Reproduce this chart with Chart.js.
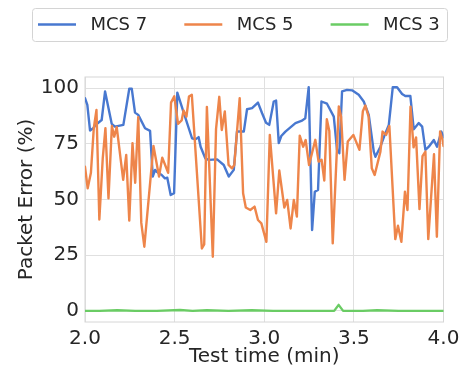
<!DOCTYPE html>
<html>
<head>
<meta charset="utf-8">
<script src="https://cdn.jsdelivr.net/npm/chart.js@4.4.1/dist/chart.umd.min.js"></script>
<style>
  html, body { margin: 0; padding: 0; background: #fff; }
  #wrap { width: 465px; height: 369px; position: relative; }
</style>
</head>
<body>
<div id="wrap"><canvas id="per"></canvas></div>
<script>
var xTicks = [2.0, 2.5, 3.0, 3.5, 4.0]
var yTicks = [0, 25, 50, 75, 100]

// MCS 7
var mcs7Time = [2.000,2.013,2.028,2.046,2.060,2.093,2.112,2.149,2.167,2.214,2.247,2.261,2.279,2.297,2.335,2.363,2.378,2.391,2.400,2.428,2.446,2.459,2.478,2.497,2.515,2.552,2.597,2.616,2.634,2.645,2.671,2.690,2.737,2.774,2.802,2.830,2.848,2.886,2.904,2.932,2.965,2.988,3.010,3.028,3.053,3.066,3.081,3.095,3.118,3.174,3.211,3.229,3.248,3.267,3.282,3.300,3.319,3.350,3.388,3.406,3.419,3.434,3.462,3.490,3.527,3.555,3.583,3.611,3.620,3.648,3.672,3.695,3.717,3.741,3.769,3.787,3.815,3.834,3.862,3.881,3.899,3.918,3.946,3.964,3.988,4.000]
var mcs7Value = [95.5,92.5,81,82,83.5,85.7,98.5,84,82.7,83.5,99.7,99.7,89,88,82,80.8,60.3,63.3,62.5,61,59.5,59.8,52,52.8,98,88.7,77.5,77,78,73.7,68.5,67.8,68,65.5,60.3,63.3,80.5,80.5,90.5,91,93.5,88.7,84.5,83.5,94,94.4,75.3,78.5,80.5,84.3,85.4,86.5,100.4,36.3,53.5,54.3,94,93,87.2,72.3,70.8,98.5,99.2,99,97,94,88,71.5,69.2,73.7,79,83.5,100.4,100.4,97.4,96.5,96.5,81.5,84.3,82.7,72.3,73.7,76.7,73.7,80.5,78]

// MCS 5
var mcs5Time = [2.000,2.015,2.033,2.049,2.064,2.080,2.099,2.114,2.131,2.150,
  2.163,2.177,2.213,2.230,2.247,2.265,2.280,2.297,2.314,2.331,
  2.382,2.413,2.431,2.464,2.480,2.498,2.519,2.539,2.550,2.566,
  2.580,2.596,2.652,2.665,2.680,2.713,2.731,2.749,2.763,2.780,
  2.801,2.820,2.833,2.863,2.882,2.897,2.922,2.946,2.965,2.984,
  3.012,3.031,3.066,3.084,3.112,3.128,3.147,3.165,3.182,3.198,
  3.217,3.231,3.250,3.285,3.303,3.320,3.335,3.349,3.363,3.382,
  3.416,3.429,3.448,3.466,3.497,3.531,3.550,3.564,3.582,3.600,
  3.616,3.648,3.660,3.680,3.698,3.731,3.746,3.765,3.785,3.799,
  3.816,3.833,3.847,3.866,3.883,3.899,3.915,3.947,3.963,3.981,
  3.995,4.000]
var mcs5Value = [64.7,55,62,82,90.2,41,68.5,82,50.5,83,
  78.2,82.5,58.8,70,40.5,75.3,57.5,87,39.5,28.8,
  74,60.3,68.8,62,93.5,96.3,84,85.5,90,87.2,
  96.2,97,28,29.8,91.6,24.3,81.6,96.1,81.2,89.5,
  65.5,64,65.5,95.5,52.8,46.4,45.3,46.8,40.8,39.3,
  31,79,43.8,63,46.4,49.8,37,49.8,42.3,78.7,
  73.7,76.7,65.5,76.8,67,67.8,58.5,86,80.8,30.3,
  91.8,87,58.8,76,79,72.3,89.6,92.2,87.2,64,
  61,71.5,80.5,79,83,32.2,38.2,31,53.5,45.3,
  91.7,73.4,77.9,45.7,69.5,71.5,32.2,70.3,33.3,80.5,
  76.7,74]

// MCS 3
var mcs3Time = [2.00,2.08,2.18,2.28,2.40,2.53,2.60,2.68,2.80,2.93,3.05,3.20,3.35,3.39,3.415,3.44,3.55,3.63,3.75,3.90,4.00]
var mcs3Value = [0,0,0.3,0,0,0.4,0,0.3,0,0.3,0,0,0,0,2.7,0,0,0.3,0,0,0]

function points(t, v) {
  return t.map(function (x, i) { return { x: x, y: v[i] } })
}

var ink = "#262626"
var gridColor = "#e0e0e0"

Chart.defaults.font.family = "'DejaVu Sans', sans-serif"
Chart.defaults.color = ink

// legend drawn inside a rounded frame above the plot
var legendBox = {
  id: "legendBox",
  afterDraw: function (chart) {
    var ctx = chart.ctx
    ctx.save()
    ctx.beginPath()
    ctx.roundRect(32.5, 8.5, 415, 33, 3)
    ctx.fillStyle = "#ffffff"
    ctx.fill()
    ctx.strokeStyle = "#d4d4d4"
    ctx.lineWidth = 1
    ctx.stroke()
    ctx.font = "18px 'DejaVu Sans'"
    ctx.textBaseline = "middle"
    chart.data.datasets.forEach(function (ds, i) {
      var x = 38 + i * 146.3
      ctx.beginPath()
      ctx.moveTo(x, 24.5)
      ctx.lineTo(x + 38, 24.5)
      ctx.strokeStyle = ds.borderColor
      ctx.lineWidth = 2.4
      ctx.stroke()
      ctx.fillStyle = ink
      ctx.fillText(ds.label, x + 52.5, 25)
    })
    ctx.restore()
  }
}

// full frame round the plot area
var frame = {
  id: "frame",
  beforeDatasetsDraw: function (chart) {
    var a = chart.chartArea
    var ctx = chart.ctx
    ctx.save()
    ctx.strokeStyle = "#d6d6d6"
    ctx.lineWidth = 1
    ctx.strokeRect(a.left, a.top, a.right - a.left, a.bottom - a.top)
    ctx.restore()
  }
}

var config = {
  type: "line",
  data: {
    datasets: [
      { label: "MCS 7", data: points(mcs7Time, mcs7Value), borderColor: "#4878d0", order: 3 },
      { label: "MCS 5", data: points(mcs5Time, mcs5Value), borderColor: "#ee854a", order: 2 },
      { label: "MCS 3", data: points(mcs3Time, mcs3Value), borderColor: "#6acc64", order: 1 }
    ]
  },
  options: {
    responsive: true,
    maintainAspectRatio: false,
    animation: false,
    layout: { padding: { top: 77, right: 21.5, left: 0, bottom: 0 } },
    elements: {
      line: { borderWidth: 2.4, tension: 0, borderCapStyle: "round", borderJoinStyle: "round" },
      point: { radius: 0 }
    },
    plugins: {
      legend: { display: false },
      tooltip: { enabled: false }
    },
    scales: {
      x: {
        type: "linear",
        min: 2,
        max: 4,
        afterFit: function (s) { s.height = 47 },
        afterBuildTicks: function (s) { s.ticks = xTicks.map(function (v) { return { value: v } }) },
        ticks: {
          padding: 5,
          font: { size: 20 },
          callback: function (v) { return v.toFixed(1) }
        },
        grid: { color: gridColor, drawTicks: false },
        border: { display: false },
        title: { display: true, text: "Test time (min)", font: { size: 20 }, padding: { top: 0, bottom: 0 } }
      },
      y: {
        min: -5,
        max: 105,
        afterFit: function (s) { s.width = 85 },
        afterBuildTicks: function (s) { s.ticks = yTicks.map(function (v) { return { value: v } }) },
        ticks: { padding: 6, font: { size: 20 } },
        grid: { color: gridColor, drawTicks: false },
        border: { display: false },
        title: { display: true, text: "Packet Error (%)", font: { size: 20 }, padding: { top: 15, bottom: 0 } }
      }
    }
  },
  plugins: [frame, legendBox]
}

var perChart = new Chart(document.getElementById("per"), config)
</script>
</body>
</html>
